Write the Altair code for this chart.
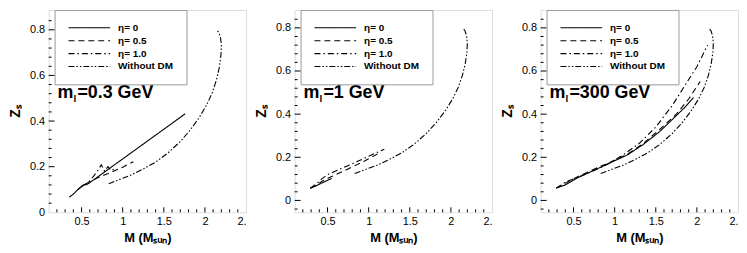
import altair as alt
import pandas as pd

FONT = "Liberation Sans"

series_names = ["η= 0", "η= 0.5", "η= 1.0", "Without DM"]
mass_labels = ["0.3", "1", "300"]

# tick values
x_major = [0.5, 1.0, 1.5, 2.0, 2.5]
x_minor = [0.2, 0.3, 0.4, 0.6, 0.7, 0.8, 0.9, 1.1, 1.2, 1.3, 1.4, 1.6, 1.7, 1.8, 1.9, 2.1, 2.2, 2.3, 2.4]
y_major = [0.0, 0.2, 0.4, 0.6, 0.8]
y_minor = [-0.04, 0.04, 0.08, 0.12, 0.16, 0.24, 0.28, 0.32, 0.36, 0.44, 0.48, 0.52, 0.56, 0.64, 0.68, 0.72, 0.76, 0.84]

# Without DM (same curve in every panel)
nodm_M = [0.83, 0.95, 1.10, 1.25, 1.40, 1.55, 1.70, 1.82, 1.93, 2.02, 2.09, 2.14, 2.175, 2.195, 2.20, 2.19, 2.17, 2.14]
nodm_Z = [0.125, 0.142, 0.163, 0.19, 0.22, 0.26, 0.31, 0.36, 0.415, 0.47, 0.525, 0.58, 0.635, 0.69, 0.73, 0.765, 0.788, 0.80]

# panel 1: m = 0.3 GeV
p1_eta0_M = [0.35, 0.40, 0.45, 0.50, 0.53, 0.56, 0.60, 0.80, 1.00, 1.20, 1.40, 1.60, 1.76]
p1_eta0_Z = [0.066, 0.08, 0.098, 0.113, 0.122, 0.121, 0.13, 0.182, 0.234, 0.286, 0.338, 0.39, 0.432]
p1_eta05_M = [0.45, 0.50, 0.60, 0.70, 0.80, 0.90, 1.00, 1.13]
p1_eta05_Z = [0.098, 0.113, 0.135, 0.152, 0.167, 0.182, 0.198, 0.222]
p1_eta1_M = [0.50, 0.58, 0.65, 0.70, 0.74, 0.76, 0.78, 0.82, 0.86, 0.90]
p1_eta1_Z = [0.113, 0.13, 0.16, 0.185, 0.208, 0.195, 0.18, 0.20, 0.183, 0.19]

# panel 2: m = 1 GeV
p2_eta0_M = [0.29, 0.35, 0.40, 0.45, 0.50, 0.55]
p2_eta0_Z = [0.057, 0.066, 0.075, 0.084, 0.093, 0.102]
p2_eta05_M = [0.29, 0.36, 0.43, 0.53, 0.65, 0.80, 0.95, 1.14]
p2_eta05_Z = [0.057, 0.07, 0.088, 0.107, 0.128, 0.155, 0.183, 0.222]
p2_eta1_M = [0.29, 0.36, 0.43, 0.50, 0.65, 0.80, 0.95, 1.10, 1.19]
p2_eta1_Z = [0.057, 0.075, 0.10, 0.12, 0.145, 0.17, 0.196, 0.222, 0.237]

# panel 3: m = 300 GeV
p3_eta0_M = [0.29, 0.40, 0.55, 0.75, 0.95, 1.15, 1.35, 1.55, 1.70, 1.85, 1.96]
p3_eta0_Z = [0.057, 0.072, 0.105, 0.14, 0.175, 0.21, 0.26, 0.32, 0.375, 0.43, 0.477]
p3_eta05_M = [0.29, 0.40, 0.55, 0.75, 0.95, 1.15, 1.35, 1.55, 1.75, 1.90, 2.04]
p3_eta05_Z = [0.057, 0.08, 0.11, 0.145, 0.178, 0.213, 0.265, 0.33, 0.40, 0.47, 0.551]
p3_eta1_M = [0.29, 0.40, 0.50, 0.70, 0.90, 1.10, 1.30, 1.50, 1.70, 1.85, 2.00, 2.13]
p3_eta1_Z = [0.057, 0.085, 0.10, 0.13, 0.165, 0.21, 0.265, 0.34, 0.44, 0.53, 0.62, 0.72]

curves = [
    [(p1_eta0_M, p1_eta0_Z), (p1_eta05_M, p1_eta05_Z), (p1_eta1_M, p1_eta1_Z), (nodm_M, nodm_Z)],
    [(p2_eta0_M, p2_eta0_Z), (p2_eta05_M, p2_eta05_Z), (p2_eta1_M, p2_eta1_Z), (nodm_M, nodm_Z)],
    [(p3_eta0_M, p3_eta0_Z), (p3_eta05_M, p3_eta05_Z), (p3_eta1_M, p3_eta1_Z), (nodm_M, nodm_Z)],
]

x_domain = [0.1, 2.5]
y_domains = [[0.0, 0.887], [-0.055, 0.883], [-0.055, 0.883]]
dashes = [[1, 0], [6, 4], [6, 3, 1.5, 3], [6, 2, 1.5, 2, 1.5, 2]]

W = 199
H = 204


def x_axis():
    return alt.Axis(values=x_major, title="M (Mₛᵤₙ)", grid=False, ticks=False, domain=False,
                    labelExpr="datum.value == 2.5 ? '2.' : format(datum.value, '~g')",
                    labelFont=FONT, labelFontSize=11, labelColor="black", labelPadding=3,
                    labelOverlap=False, labelFlush=True,
                    titleFont=FONT, titleFontSize=13, titleFontWeight="bold", titleColor="black",
                    titlePadding=5)


def y_axis():
    return alt.Axis(values=y_major, title="Zₛ", grid=False, ticks=False, domain=False,
                    format="~g", labelFont=FONT, labelFontSize=11, labelColor="black",
                    labelPadding=4, labelOverlap=False,
                    titleFont=FONT, titleFontSize=14, titleFontWeight="bold", titleColor="black",
                    titlePadding=7)


def panel(i):
    rows = []
    for name, (ms, zs) in zip(series_names, curves[i]):
        for k, (m, z) in enumerate(zip(ms, zs)):
            rows.append({"M": m, "Z": z, "series": name, "idx": k})
    df = pd.DataFrame(rows)
    xs = alt.Scale(domain=x_domain, nice=False, zero=False)
    ys = alt.Scale(domain=y_domains[i], nice=False, zero=False)

    lines = alt.Chart(df).mark_line(color="black", strokeWidth=1.1, strokeCap="butt").encode(
        x=alt.X("M:Q", scale=xs, axis=x_axis()),
        y=alt.Y("Z:Q", scale=ys, axis=y_axis()),
        strokeDash=alt.StrokeDash(
            "series:N",
            scale=alt.Scale(domain=series_names, range=dashes),
            legend=alt.Legend(title=None, orient="none", legendX=6, legendY=0,
                              symbolType="stroke", symbolSize=1764, symbolStrokeWidth=1.1,
                              symbolStrokeColor="black", clipHeight=10, rowPadding=3,
                              labelFont=FONT, labelFontSize=10, labelFontWeight="bold",
                              labelColor="black", labelOffset=7, padding=13,
                              strokeColor="#9a9a9a", fillColor="white", cornerRadius=0),
        ),
        order=alt.Order("idx:Q"),
    )

    yv = [v for v in y_minor if y_domains[i][0] < v < y_domains[i][1]]
    ymaj = [v for v in y_major if y_domains[i][0] < v < y_domains[i][1]]
    ytick_major = alt.Chart(pd.DataFrame({"Z": ymaj})).mark_rule(color="black", strokeWidth=1).encode(
        y=alt.Y("Z:Q", scale=ys, axis=y_axis()), x=alt.value(0), x2=alt.value(6))
    ytick_minor = alt.Chart(pd.DataFrame({"Z": yv})).mark_rule(color="black", strokeWidth=1).encode(
        y=alt.Y("Z:Q", scale=ys, axis=y_axis()), x=alt.value(0), x2=alt.value(3))
    xtick_major = alt.Chart(pd.DataFrame({"M": x_major[:-1]})).mark_rule(color="black", strokeWidth=1).encode(
        x=alt.X("M:Q", scale=xs, axis=x_axis()), y=alt.value(H), y2=alt.value(H - 5))
    xtick_minor = alt.Chart(pd.DataFrame({"M": x_minor})).mark_rule(color="black", strokeWidth=1).encode(
        x=alt.X("M:Q", scale=xs, axis=x_axis()), y=alt.value(H), y2=alt.value(H - 3))

    big = alt.Chart(pd.DataFrame({"t": ["m"]})).mark_text(
        font=FONT, fontSize=18, fontWeight="bold", align="left", baseline="alphabetic", color="black"
    ).encode(text="t:N", x=alt.value(9), y=alt.value(89))
    sub = alt.Chart(pd.DataFrame({"t": ["l"]})).mark_text(
        font=FONT, fontSize=10, fontWeight="bold", align="left", baseline="alphabetic", color="black"
    ).encode(text="t:N", x=alt.value(25), y=alt.value(93))
    rest = alt.Chart(pd.DataFrame({"t": ["=" + mass_labels[i] + " GeV"]})).mark_text(
        font=FONT, fontSize=18, fontWeight="bold", align="left", baseline="alphabetic", color="black"
    ).encode(text="t:N", x=alt.value(29), y=alt.value(89))

    return alt.layer(xtick_minor, xtick_major, ytick_minor, ytick_major, lines, big, sub, rest).properties(
        width=W, height=H)


chart = alt.hconcat(panel(0), panel(1), panel(2), spacing=49, bounds="flush").resolve_scale(
    x="independent", y="independent", strokeDash="independent"
).resolve_legend(strokeDash="independent").properties(
    padding={"left": 0, "top": 0, "right": 0, "bottom": 0}
).configure_view(stroke="black", strokeWidth=1.6).configure(background="white")

chart.save("out.html", embed_options={"renderer": "svg", "actions": False})
